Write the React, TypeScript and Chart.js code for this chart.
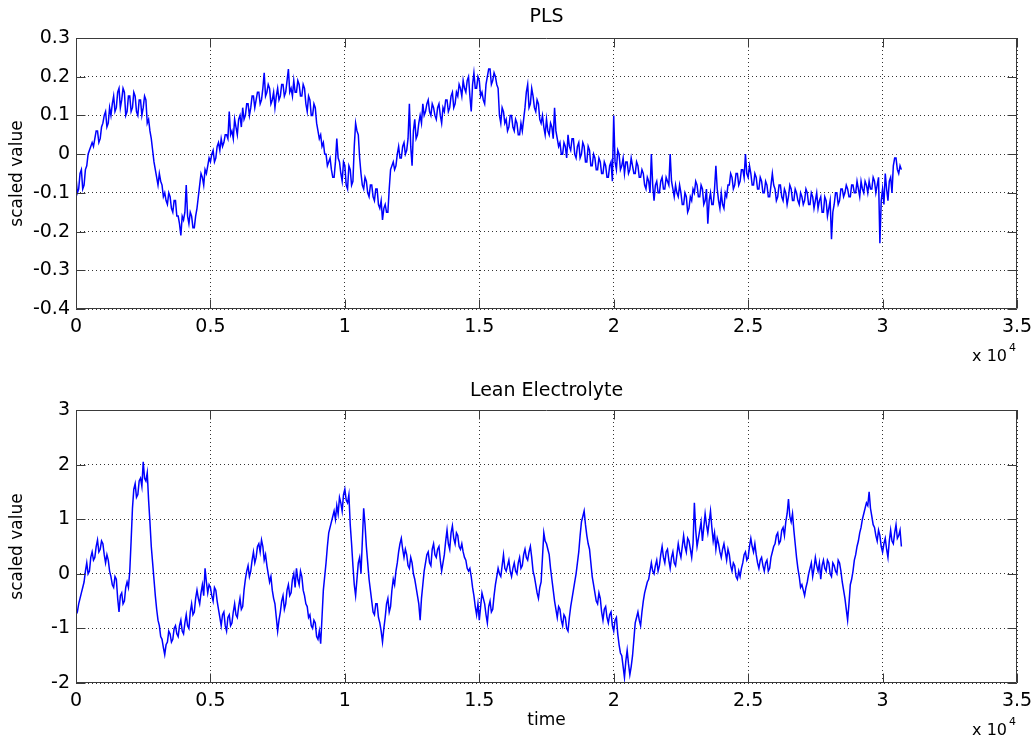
import React, { useEffect, useRef } from "react";
import { Chart, registerables } from "chart.js";

Chart.register(...registerables);

const FONT = "'DejaVu Sans', 'Liberation Sans', sans-serif";

// sample spacing along the time axis
const SAMPLE_STEP = 50;

// x axis ticks (time, shown in units of 10^4)
const timeTicks = [0, 5000, 10000, 15000, 20000, 25000, 30000, 35000];

// PLS (scaled value), one value per 50 samples
const plsValues = [
  -0.06, -0.10, -0.09, -0.05, -0.04, -0.09, -0.08, -0.04, -0.03, 0.00, 0.01, 0.02, 0.03, 0.02, 0.04, 0.06, 0.06, 0.03, 0.04, 0.07,
  0.08, 0.10, 0.11, 0.07, 0.08, 0.12, 0.10, 0.13, 0.15, 0.11, 0.12, 0.16, 0.17, 0.12, 0.14, 0.17, 0.16, 0.10, 0.11, 0.15,
  0.15, 0.11, 0.12, 0.16, 0.15, 0.11, 0.10, 0.14, 0.14, 0.10, 0.12, 0.15, 0.14, 0.08, 0.09, 0.06, 0.04, 0.01, -0.02, -0.04,
  -0.06, -0.08, -0.05, -0.07, -0.08, -0.11, -0.10, -0.12, -0.13, -0.10, -0.11, -0.14, -0.15, -0.12, -0.12, -0.16, -0.16, -0.18, -0.21, -0.16,
  -0.17, -0.15, -0.08, -0.16, -0.18, -0.15, -0.16, -0.19, -0.19, -0.16, -0.14, -0.11, -0.08, -0.05, -0.06, -0.08, -0.04, -0.05, -0.03, -0.01,
  -0.02, 0.00, 0.01, -0.02, -0.01, 0.02, 0.03, 0.01, 0.04, 0.02, 0.03, 0.05, 0.05, 0.04, 0.11, 0.05, 0.06, 0.04, 0.09, 0.07,
  0.05, 0.09, 0.10, 0.07, 0.12, 0.09, 0.10, 0.13, 0.13, 0.10, 0.12, 0.15, 0.15, 0.12, 0.14, 0.16, 0.16, 0.13, 0.14, 0.17,
  0.21, 0.15, 0.16, 0.18, 0.17, 0.13, 0.14, 0.16, 0.12, 0.15, 0.17, 0.14, 0.15, 0.18, 0.18, 0.15, 0.16, 0.19, 0.22, 0.16,
  0.17, 0.15, 0.19, 0.16, 0.16, 0.19, 0.18, 0.15, 0.15, 0.18, 0.17, 0.13, 0.11, 0.15, 0.14, 0.10, 0.10, 0.13, 0.12, 0.08,
  0.06, 0.04, 0.05, 0.02, 0.03, 0.00, 0.00, -0.03, -0.02, -0.01, -0.04, -0.06, -0.06, -0.02, 0.04, -0.01, -0.02, -0.05, -0.07, -0.02,
  -0.03, -0.08, -0.09, -0.03, -0.04, -0.08, -0.07, 0.02, 0.08, 0.06, 0.05, -0.01, -0.05, -0.08, -0.09, -0.06, -0.07, -0.10, -0.11, -0.08,
  -0.08, -0.11, -0.12, -0.09, -0.09, -0.13, -0.14, -0.12, -0.17, -0.14, -0.13, -0.15, -0.15, -0.09, -0.04, -0.03, -0.02, -0.04, -0.03, 0.00,
  0.02, -0.01, -0.01, 0.02, 0.03, 0.00, 0.01, 0.04, 0.13, 0.02, -0.03, 0.06, 0.09, 0.04, 0.05, 0.08, 0.10, 0.08, 0.13, 0.10,
  0.11, 0.13, 0.14, 0.11, 0.10, 0.13, 0.12, 0.10, 0.09, 0.12, 0.13, 0.10, 0.08, 0.12, 0.11, 0.14, 0.14, 0.11, 0.12, 0.15,
  0.16, 0.12, 0.13, 0.16, 0.15, 0.18, 0.17, 0.15, 0.19, 0.17, 0.16, 0.19, 0.20, 0.15, 0.11, 0.18, 0.21, 0.17, 0.17, 0.20,
  0.19, 0.15, 0.16, 0.14, 0.13, 0.18, 0.20, 0.22, 0.22, 0.18, 0.19, 0.21, 0.20, 0.18, 0.17, 0.10, 0.08, 0.12, 0.11, 0.08,
  0.09, 0.06, 0.07, 0.10, 0.10, 0.07, 0.06, 0.09, 0.08, 0.05, 0.05, 0.08, 0.06, 0.09, 0.12, 0.16, 0.18, 0.12, 0.13, 0.17,
  0.15, 0.12, 0.11, 0.14, 0.13, 0.09, 0.08, 0.10, 0.07, 0.05, 0.09, 0.06, 0.05, 0.08, 0.07, 0.04, 0.12, 0.06, 0.04, 0.02,
  0.03, 0.00, 0.00, 0.03, 0.02, -0.01, 0.05, 0.02, 0.01, 0.04, 0.04, 0.00, -0.01, 0.02, 0.03, -0.01, 0.00, 0.03, 0.02, -0.02,
  -0.02, 0.02, 0.01, -0.03, -0.03, 0.00, -0.01, -0.04, -0.04, -0.01, -0.02, -0.05, -0.05, -0.02, -0.03, -0.06, -0.06, -0.03, -0.02, -0.07,
  0.10, -0.02, -0.04, 0.01, 0.00, -0.04, -0.03, -0.01, -0.05, -0.02, -0.02, -0.05, -0.04, -0.01, -0.03, -0.05, -0.05, -0.02, -0.03, -0.06,
  -0.06, -0.04, -0.05, -0.08, -0.09, -0.06, -0.07, -0.10, 0.00, -0.08, -0.12, -0.08, -0.07, -0.10, -0.10, -0.07, -0.06, -0.09, -0.09, -0.06,
  -0.07, -0.08, 0.00, -0.07, -0.09, -0.11, -0.08, -0.10, -0.11, -0.08, -0.10, -0.13, -0.13, -0.10, -0.11, -0.15, -0.14, -0.11, -0.12, -0.09,
  -0.10, -0.07, -0.08, -0.11, -0.11, -0.08, -0.09, -0.13, -0.12, -0.09, -0.18, -0.12, -0.10, -0.13, -0.13, -0.09, -0.03, -0.09, -0.12, -0.14,
  -0.10, -0.13, -0.14, -0.10, -0.11, -0.08, -0.08, -0.05, -0.06, -0.09, -0.08, -0.05, -0.05, -0.08, -0.07, -0.04, -0.04, -0.06, 0.00, -0.05,
  -0.06, -0.03, -0.05, -0.08, -0.08, -0.05, -0.06, -0.09, -0.09, -0.06, -0.07, -0.10, -0.10, -0.07, -0.08, -0.11, -0.11, -0.08, -0.05, -0.08,
  -0.09, -0.12, -0.11, -0.08, -0.08, -0.11, -0.12, -0.09, -0.10, -0.13, -0.11, -0.08, -0.09, -0.12, -0.12, -0.09, -0.10, -0.12, -0.13, -0.10,
  -0.11, -0.13, -0.12, -0.09, -0.10, -0.13, -0.13, -0.10, -0.11, -0.14, -0.12, -0.10, -0.14, -0.12, -0.11, -0.15, -0.15, -0.11, -0.12, -0.16,
  -0.14, -0.12, -0.22, -0.15, -0.13, -0.10, -0.10, -0.13, -0.12, -0.09, -0.09, -0.11, -0.10, -0.08, -0.09, -0.11, -0.11, -0.08, -0.08, -0.10,
  -0.10, -0.07, -0.09, -0.11, -0.07, -0.09, -0.10, -0.07, -0.08, -0.10, -0.07, -0.09, -0.09, -0.06, -0.07, -0.10, -0.08, -0.06, -0.23, -0.12,
  -0.09, -0.13, -0.05, -0.09, -0.12, -0.07, -0.06, -0.10, -0.03, -0.01, -0.01, -0.04, -0.05, -0.03, -0.04,
];

// Lean Electrolyte (scaled value), one value per 50 samples
const leanValues = [
  -0.75, -0.70, -0.55, -0.45, -0.35, -0.25, -0.15, 0.05, 0.20, 0.00, 0.05, 0.30, 0.40, 0.25, 0.30, 0.50, 0.62, 0.40, 0.45, 0.60,
  0.55, 0.35, 0.20, 0.35, 0.25, 0.05, -0.05, -0.20, -0.25, -0.05, -0.10, -0.45, -0.70, -0.40, -0.35, -0.55, -0.50, -0.25, -0.15, -0.25,
  0.05, 0.60, 1.20, 1.55, 1.65, 1.40, 1.45, 1.70, 1.75, 1.60, 2.05, 1.75, 1.70, 1.85, 1.35, 0.95, 0.50, 0.20, -0.10, -0.40,
  -0.65, -0.85, -0.95, -1.15, -1.20, -1.35, -1.48, -1.30, -1.25, -1.05, -1.10, -1.25, -1.20, -1.00, -0.95, -1.10, -1.15, -0.95, -0.85, -1.05,
  -1.10, -0.90, -0.75, -0.95, -1.00, -0.70, -0.55, -0.75, -0.70, -0.45, -0.30, -0.45, -0.55, -0.35, -0.20, -0.40, 0.10, -0.15, -0.35, -0.20,
  -0.25, -0.40, -0.50, -0.25, -0.30, -0.50, -0.65, -0.80, -0.95, -0.75, -0.70, -0.95, -1.05, -0.80, -0.75, -0.95, -0.90, -0.70, -0.55, -0.75,
  -0.80, -0.60, -0.45, -0.65, -0.60, -0.30, -0.10, 0.05, 0.15, -0.05, 0.05, 0.25, 0.40, 0.20, 0.30, 0.50, 0.55, 0.40, 0.62, 0.50,
  0.25, 0.35, 0.15, 0.00, -0.15, -0.05, -0.30, -0.45, -0.55, -0.80, -1.05, -0.85, -0.70, -0.50, -0.40, -0.65, -0.55, -0.30, -0.20, -0.40,
  -0.35, -0.10, 0.00, -0.25, 0.10, -0.10, -0.20, 0.05, -0.05, -0.30, -0.40, -0.55, -0.60, -0.80, -0.75, -0.95, -1.00, -0.85, -0.90, -1.15,
  -1.20, -1.05, -1.28, -0.80, -0.30, -0.05, 0.20, 0.50, 0.75, 0.85, 0.95, 1.05, 1.15, 1.00, 1.25, 1.10, 1.40, 1.30, 1.15, 1.45,
  1.55, 1.35, 1.30, 1.45, 0.90, 0.55, 0.15, -0.20, -0.40, -0.10, 0.20, 0.30, 0.00, 0.60, 1.20, 0.90, 0.50, 0.20, -0.10, -0.30,
  -0.50, -0.70, -0.75, -0.55, -0.55, -0.80, -0.90, -1.05, -1.25, -1.00, -0.80, -0.55, -0.45, -0.70, -0.60, -0.30, -0.10, -0.20, 0.05, 0.20,
  0.40, 0.55, 0.65, 0.45, 0.30, 0.45, 0.35, 0.15, 0.10, 0.30, 0.20, 0.00, -0.10, -0.25, -0.40, -0.55, -0.85, -0.45, -0.20, 0.05,
  0.20, 0.35, 0.40, 0.20, 0.15, 0.45, 0.55, 0.35, 0.30, 0.45, 0.50, 0.25, 0.05, 0.20, 0.35, 0.60, 0.80, 0.55, 0.45, 0.75,
  0.88, 0.65, 0.55, 0.75, 0.70, 0.50, 0.45, 0.55, 0.40, 0.30, 0.25, 0.10, 0.05, 0.10, -0.05, -0.25, -0.40, -0.60, -0.75, -0.55,
  -0.85, -0.60, -0.35, -0.45, -0.55, -0.75, -0.90, -0.60, -0.50, -0.70, -0.65, -0.40, -0.20, -0.05, 0.10, 0.00, -0.05, 0.15, 0.35, 0.10,
  0.05, 0.15, 0.25, 0.05, -0.05, 0.10, 0.20, 0.05, 0.00, 0.20, 0.30, 0.10, 0.15, 0.35, 0.45, 0.30, 0.25, 0.40, 0.50, 0.30,
  0.05, -0.05, -0.20, -0.35, -0.45, -0.25, -0.15, 0.30, 0.75, 0.60, 0.55, 0.45, 0.35, 0.10, -0.10, -0.30, -0.50, -0.65, -0.80, -0.60,
  -0.65, -0.85, -0.95, -0.75, -0.80, -1.00, -1.05, -0.80, -0.60, -0.45, -0.30, -0.15, 0.00, 0.20, 0.40, 0.70, 0.95, 1.05, 1.15, 0.90,
  0.70, 0.55, 0.45, 0.20, -0.05, -0.20, -0.35, -0.50, -0.55, -0.35, -0.45, -0.70, -0.85, -0.65, -0.60, -0.80, -0.90, -0.75, -0.70, -0.95,
  -1.05, -0.85, -0.80, -1.10, -1.30, -1.45, -1.50, -1.70, -1.90, -1.60, -1.40, -1.65, -1.85, -1.70, -1.50, -1.20, -0.90, -0.80, -0.70, -0.85,
  -0.95, -0.70, -0.50, -0.35, -0.25, -0.15, -0.10, 0.05, 0.20, 0.05, 0.00, 0.15, 0.25, 0.05, 0.15, 0.35, 0.50, 0.30, 0.20, 0.40,
  0.45, 0.25, 0.10, 0.30, 0.40, 0.20, 0.15, 0.35, 0.55, 0.40, 0.30, 0.50, 0.70, 0.50, 0.40, 0.65, 0.60, 0.45, 0.30, 0.55,
  1.30, 0.80, 0.50, 0.65, 0.80, 0.95, 0.60, 0.85, 1.10, 0.90, 0.75, 0.95, 1.15, 0.85, 0.60, 0.75, 0.45, 0.65, 0.55, 0.40,
  0.30, 0.45, 0.55, 0.40, 0.25, 0.45, 0.35, 0.15, 0.05, 0.20, 0.15, -0.05, -0.10, 0.05, -0.05, 0.10, 0.20, 0.35, 0.40, 0.25,
  0.30, 0.50, 0.65, 0.50, 0.40, 0.55, 0.35, 0.20, 0.10, 0.25, 0.30, 0.15, 0.05, 0.20, 0.25, 0.05, 0.10, 0.30, 0.40, 0.50,
  0.55, 0.70, 0.75, 0.55, 0.60, 0.80, 0.85, 0.70, 0.95, 1.10, 1.37, 1.05, 0.95, 1.10, 0.80, 0.55, 0.30, 0.10, -0.05, -0.25,
  -0.20, -0.30, -0.40, -0.25, -0.15, 0.00, 0.10, 0.20, -0.05, 0.10, 0.30, 0.15, 0.05, 0.20, -0.10, 0.15, 0.25, 0.10, 0.05, 0.25,
  0.20, 0.00, -0.05, 0.20, 0.15, 0.05, 0.00, 0.25, 0.20, 0.05, -0.15, -0.30, -0.45, -0.65, -0.85, -0.55, -0.20, -0.10, 0.05, 0.25,
  0.35, 0.50, 0.60, 0.75, 0.85, 1.00, 1.10, 1.20, 1.30, 1.25, 1.50, 1.20, 1.05, 0.90, 0.85, 0.70, 0.60, 0.80, 0.70, 0.50,
  0.40, 0.55, 0.65, 0.45, 0.30, 0.60, 0.80, 0.60, 0.55, 0.75, 0.90, 0.65, 0.70, 0.80, 0.50,
];

const fmt1 = (v: number) => String(Number(Number(v).toFixed(1)));

const matlabBox = {
  id: "matlabBox",
  afterDraw(chart: any) {
    const { ctx, chartArea: a, scales } = chart;
    const L = Math.round(a.left) + 0.5;
    const R = Math.round(a.right) - 0.5;
    const T = Math.round(a.top) + 0.5;
    const B = Math.round(a.bottom) - 0.5;
    const tick = 9;
    ctx.save();
    ctx.setLineDash([]);
    ctx.strokeStyle = "#3a3a3a";
    ctx.lineWidth = 1;
    ctx.beginPath();
    ctx.rect(L, T, R - L, B - T);
    scales.x.ticks.forEach((t: any) => {
      const px = Math.round(scales.x.getPixelForValue(t.value)) + 0.5;
      ctx.moveTo(px, B);
      ctx.lineTo(px, B - tick);
      ctx.moveTo(px, T);
      ctx.lineTo(px, T + tick);
    });
    scales.y.ticks.forEach((t: any) => {
      const py = Math.round(scales.y.getPixelForValue(t.value)) + 0.5;
      ctx.moveTo(L, py);
      ctx.lineTo(L + tick, py);
      ctx.moveTo(R, py);
      ctx.lineTo(R - tick, py);
    });
    ctx.stroke();
    // exponent label of the x axis
    ctx.fillStyle = "#000";
    ctx.textBaseline = "middle";
    ctx.textAlign = "right";
    ctx.font = `16px ${FONT}`;
    ctx.fillText("x 10", a.right - 10, a.bottom + 48);
    ctx.textAlign = "left";
    ctx.font = `11px ${FONT}`;
    ctx.fillText("4", a.right - 8, a.bottom + 39);
    ctx.restore();
  },
};

type PanelProps = {
  title: string;
  values: number[];
  yMin: number;
  yMax: number;
  yStep: number;
  titleTop: number;
  titleBottom: number;
  xAxisHeight: number;
  xTitle?: string;
};

function Panel(p: PanelProps) {
  const ref = useRef<HTMLCanvasElement | null>(null);
  useEffect(() => {
    if (!ref.current) return;
    const points = p.values.map((v, i) => ({ x: i * SAMPLE_STEP, y: v }));
    const chart = new Chart(ref.current, {
      type: "line",
      data: {
        datasets: [
          {
            data: points,
            borderColor: "#0000ff",
            borderWidth: 1.5,
            pointRadius: 0,
            tension: 0,
            fill: false,
          },
        ],
      },
      options: {
        animation: false,
        responsive: false,
        layout: { padding: { left: 0, right: 19, top: 0, bottom: 0 } },
        plugins: {
          legend: { display: false },
          tooltip: { enabled: false },
          title: {
            display: true,
            text: p.title,
            fullSize: false,
            color: "#000",
            font: { family: FONT, size: 19, weight: "normal", lineHeight: 1.2 },
            padding: { top: p.titleTop, bottom: p.titleBottom },
          },
        },
        scales: {
          x: {
            type: "linear",
            min: 0,
            max: 35000,
            afterBuildTicks: (s: any) => {
              s.ticks = timeTicks.map((v) => ({ value: v }));
            },
            afterFit: (s: any) => {
              s.height = p.xAxisHeight;
              s.paddingLeft = 0;
              s.paddingRight = 0;
            },
            grid: { color: "rgba(0,0,0,0.8)", lineWidth: 1, drawTicks: false },
            border: { display: false, dash: [1, 3] },
            ticks: {
              color: "#000",
              font: { family: FONT, size: 19 },
              padding: 7,
              maxRotation: 0,
              callback: (v: any) => fmt1(Number(v) / 10000),
            },
            title: {
              display: !!p.xTitle,
              text: p.xTitle || "",
              color: "#000",
              font: { family: FONT, size: 17 },
              padding: { top: 0, bottom: 11 },
            },
          },
          y: {
            min: p.yMin,
            max: p.yMax,
            afterFit: (s: any) => {
              s.width = 76;
              s.paddingTop = 0;
              s.paddingBottom = 0;
            },
            grid: { color: "rgba(0,0,0,0.8)", lineWidth: 1, drawTicks: false },
            border: { display: false, dash: [1, 3] },
            ticks: {
              stepSize: p.yStep,
              color: "#000",
              font: { family: FONT, size: 19 },
              padding: 6,
              callback: (v: any) => fmt1(Number(v)),
            },
            title: {
              display: true,
              text: "scaled value",
              color: "#000",
              font: { family: FONT, size: 17 },
              padding: { top: 7, bottom: 0 },
            },
          },
        },
      },
      plugins: [matlabBox],
    } as any);
    return () => chart.destroy();
  }, []);
  return (
    <canvas
      ref={ref}
      width={1036}
      height={371}
      style={{ display: "block", width: 1036, height: 371 }}
    />
  );
}

export default function App() {
  return (
    <div
      style={{
        position: "fixed",
        left: 0,
        top: 0,
        width: 1036,
        height: 742,
        background: "#fff",
      }}
    >
      <Panel
        title="PLS"
        values={plsValues}
        yMin={-0.4}
        yMax={0.3}
        yStep={0.1}
        titleTop={6}
        titleBottom={9.2}
        xAxisHeight={62}
      />
      <Panel
        title="Lean Electrolyte"
        values={leanValues}
        yMin={-2}
        yMax={3}
        yStep={1}
        titleTop={8.6}
        titleBottom={7.6}
        xAxisHeight={59}
        xTitle="time"
      />
    </div>
  );
}
